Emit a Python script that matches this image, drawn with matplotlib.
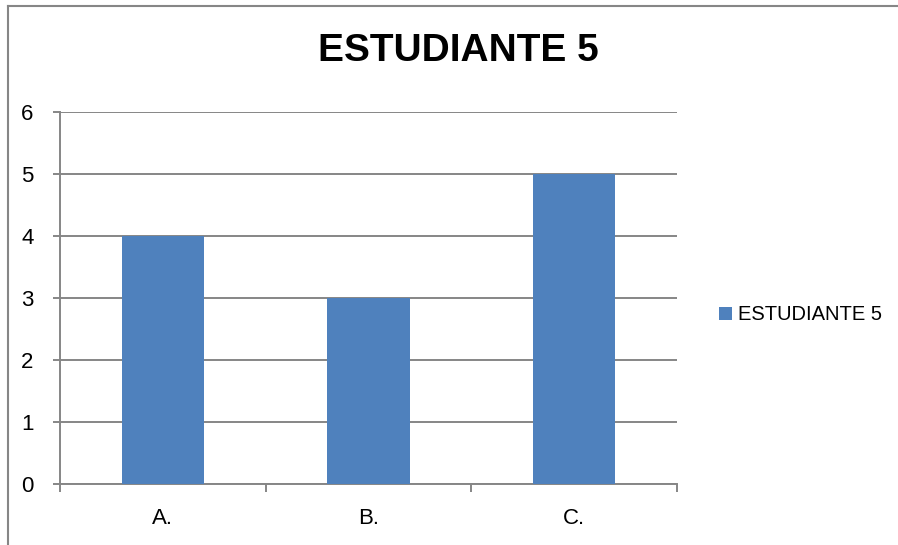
import matplotlib
matplotlib.use('Agg')
import matplotlib.pyplot as plt
from matplotlib.lines import Line2D
import numpy as np

categories = ['A.', 'B.', 'C.']
values = [4, 3, 5]
series_name = 'ESTUDIANTE 5'

plt.rcParams['font.family'] = ['Liberation Sans', 'DejaVu Sans']

fig = plt.figure(figsize=(8.98, 5.45), dpi=100)
ax = fig.add_axes([60 / 898, 1 - 484 / 545, 617 / 898, 372 / 545])

gray = '#868686'
x = np.arange(len(categories))
ax.bar(x, values, width=0.4, color='#4F81BD', label=series_name, zorder=3)

ax.set_xlim(-0.5, len(categories) - 0.5)
ax.set_ylim(0, 6)
ax.set_yticks(range(0, 7))
ax.yaxis.grid(True, color=gray, linewidth=1.4, zorder=0)

# category labels centred, tick marks on the boundaries between them
ax.set_xticks(x)
ax.set_xticklabels(categories)
ax.set_xticks(np.arange(-0.5, len(categories)), minor=True)
ax.tick_params(axis='x', which='major', length=0, pad=17, labelsize=16)
ax.tick_params(axis='x', which='minor', length=6, width=1.4, color=gray, direction='out')
ax.tick_params(axis='y', length=5, width=1.4, color=gray, pad=14, labelsize=16)

for side in ['top', 'right']:
    ax.spines[side].set_visible(False)
for side in ['left', 'bottom']:
    ax.spines[side].set_color(gray)
    ax.spines[side].set_linewidth(1.4)

fig.text(458 / 898, 1 - 51 / 545, series_name, ha='center', va='center',
         fontsize=28, fontweight='bold')

fig.legend(loc='center left', bbox_to_anchor=(709 / 898, 1 - 315 / 545),
           frameon=False, fontsize=14.5, handlelength=0.65, handleheight=0.65,
           handletextpad=0.3, borderpad=0)

# chart area frame
fig.add_artist(Line2D([8 / 898, 8 / 898], [0, 1 - 6 / 545], color=gray, linewidth=1.5))
fig.add_artist(Line2D([8 / 898, 1], [1 - 6 / 545, 1 - 6 / 545], color=gray, linewidth=1.5))

fig.savefig('out.png', dpi=100)
